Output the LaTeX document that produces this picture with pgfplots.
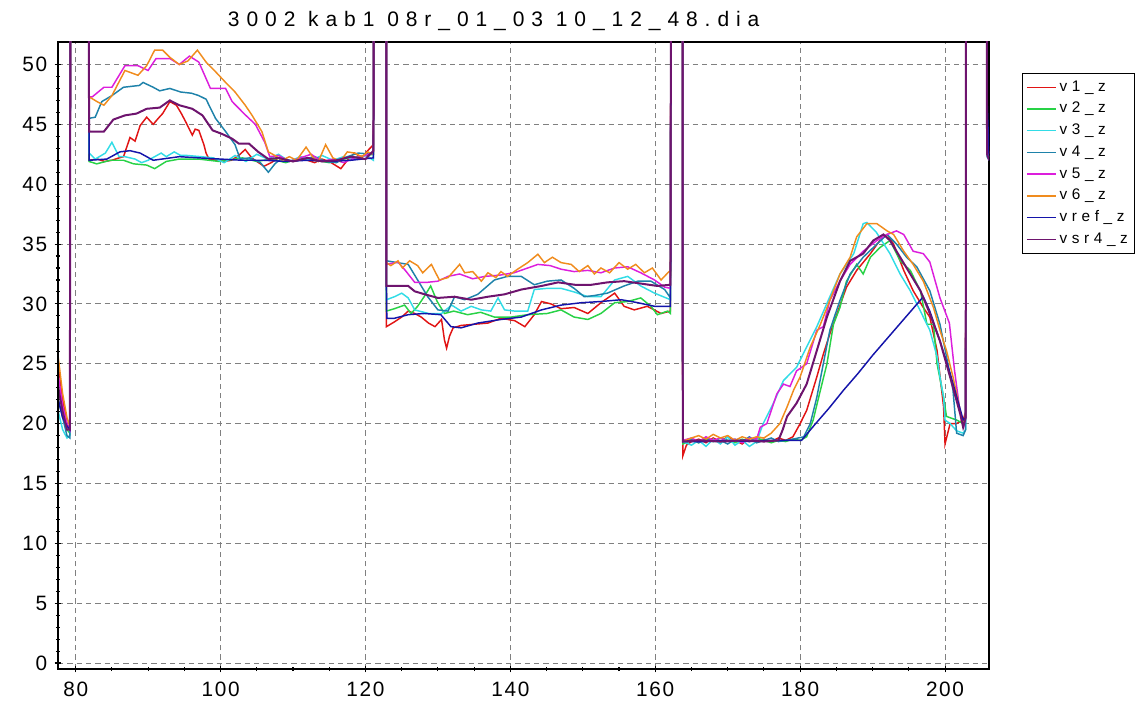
\documentclass[border=0pt]{standalone}
\usepackage{fontspec}
\setmainfont{Liberation Sans}
\newfontfamily\tickfont{Liberation Sans}[LetterSpace=8]
\newfontfamily\titlefont{Liberation Sans}[LetterSpace=33]
\newfontfamily\legfont{Liberation Sans}[LetterSpace=30]
\usepackage{pgfplots}
\pgfplotsset{compat=1.18}
\definecolor{cA}{RGB}{225,20,20}
\definecolor{cB}{RGB}{40,210,70}
\definecolor{cC}{RGB}{50,220,230}
\definecolor{cD}{RGB}{30,130,170}
\definecolor{cE}{RGB}{220,30,220}
\definecolor{cF}{RGB}{240,140,30}
\definecolor{cG}{RGB}{20,20,170}
\definecolor{cH}{RGB}{110,20,110}
\begin{document}
\begin{tikzpicture}
\begin{axis}[name=ax, scale only axis, width=698.25pt, height=470.25pt,
  xmin=77.56, xmax=206.07, ymin=-0.5, ymax=51.88,
  xtick={80,100,...,200}, ytick={0,5,...,50},
  minor x tick num=3, minor y tick num=4,
  tick pos=left, tick align=center, major tick length=5pt, minor tick length=3pt,
  tick style={black, line width=0.8pt},
  grid=major, major grid style={gray, line width=0.75pt, dash pattern=on 4pt off 3pt},
  axis line style={black, line width=0.8pt},
  /pgf/number format/assume math mode=true,
  ticklabel style={font=\fontsize{15.6pt}{18pt}\selectfont\tickfont},
  yticklabel style={xshift=-2pt},
  xticklabel style={yshift=-4pt},
  title={3002 kab1 08r\_01\_03 10\_12\_48.dia},
  title style={font=\fontsize{15.75pt}{18pt}\selectfont\titlefont, at={(0.468,1)}, anchor=south, inner sep=0pt, yshift=2pt},
  legend style={at={(1.0354,0.9506)}, anchor=north west, draw=black, fill=white,
    font=\fontsize{11.5pt}{13pt}\selectfont\legfont, row sep=5.3pt, inner xsep=3pt, inner ysep=5pt,
    nodes={inner ysep=0pt, text height=8.5pt, text depth=2.5pt}},
  legend cell align=left,
  legend image code/.code={\draw[#1,line width=1.1pt] (0pt,0pt) -- (22pt,0pt);},
  every axis plot/.append style={line width=1.1pt, mark=none},
]
% v1_z
\addplot[draw=cA] coordinates {
(77.6,25) (78.2,22) (78.8,20) (79.2,19.5) (79.3,70) (81.75,70)
(81.85,42.0) (83,42.1) (84,41.9) (85,42.0) (86,42.2) (86.6,42.3) (87.5,43.9) (88.2,43.6) (88.9,44.9) (89.8,45.6) (90.7,45.0) (91.4,45.5) (92,45.9) (93,46.9) (93.9,46.6) (94.5,46.0) (95.2,45.2) (96.1,44.1) (96.5,44.6) (97,44.5) (97.7,43.3) (98,42.6) (98.4,42.1) (99.5,42.0) (100.5,41.9) (101.5,42.0) (102.5,42.4) (103.4,42.9) (104.3,42.2) (105,41.9) (106,41.5) (107,41.8) (108,42.2) (109,42.0) (110,41.9) (111,42.3) (112,42.0) (113,41.8) (114,42.1) (115,41.9) (116.6,41.3) (117.5,42.0) (118.5,42.6) (119.5,42.2) (120.3,42.8) (121.1,43.3) (121.2,70) (122.85,70)
(122.9,28.1) (124.0,28.5) (125.0,28.9) (125.9,29.4) (126.8,29.2) (127.7,28.9) (128.7,28.4) (129.6,28.1) (130.5,28.7) (130.9,27.0) (131.2,26.3) (131.6,27.3) (132.1,28.0) (133.2,28.2) (135.0,28.3) (136.9,28.4) (138.7,28.8) (140.6,28.6) (142.0,28.1) (143.3,29.1) (144.3,30.2) (145.6,30.0) (147.0,29.6) (148.8,29.7) (150.7,29.2) (152.5,30.1) (154.4,30.9) (155.7,29.8) (157.1,29.5) (158.9,29.8) (160.8,29.2) (162.1,29.4) (162.2,70) (163.75,70)
(163.8,17.3) (164.3,18.2) (165,18.5) (166,18.7) (167,18.4) (168,18.8) (169,18.5) (170,18.9) (171,18.6) (172,18.3) (173,18.8) (174,18.6) (175,18.7) (176,18.5) (177,18.8) (178,18.6) (179,18.9) (180,20.0) (180.9,21.1) (182.3,23.9) (183.2,25.8) (184.1,27.5) (185.1,29.2) (186.4,31.4) (187.8,32.8) (189.7,34.2) (191.0,35.3) (192.0,35.8) (192.9,35.0) (194.3,32.8) (195.6,31.1) (197.0,29.7) (197.9,28.9) (198.9,26.1) (199.8,21.4) (200.0,18.3) (200.7,20.0) (201.6,20.0) (202.5,20.3) (202.85,21) (202.9,70) (205.7,70) (205.8,44) (206.1,42.5)
};
\addlegendentry{v1\_z}
% v2_z
\addplot[draw=cB] coordinates {
(77.6,23) (78.2,21) (78.8,19.5) (79.2,19.2) (79.3,70) (81.75,70)
(81.85,41.9) (82.9,41.7) (84.8,42.0) (86.6,42.0) (88,41.7) (89.8,41.6) (90.9,41.3) (92.5,41.9) (94.3,42.1) (97,42.1) (99.8,41.9) (101,42.0) (103,42.2) (105,41.9) (107,42.1) (109,41.8) (111,42.2) (113,42.0) (115,41.8) (117,42.1) (119,42.3) (121.1,42.5) (121.2,70) (122.85,70)
(122.9,29.4) (124.0,29.6) (125.4,29.9) (126.3,29.2) (127.2,29.8) (128.1,30.6) (129.0,31.5) (129.9,30.2) (130.9,29.2) (132.2,29.4) (134.1,29.1) (135.9,29.3) (137.8,28.9) (140.1,28.9) (142.4,29.1) (145.1,29.2) (147.0,29.5) (148.8,28.9) (150.7,28.7) (152.5,29.2) (154.4,30.1) (156.2,30.2) (158.0,30.5) (159.4,29.8) (160.3,29.1) (161.7,29.4) (162.1,29.2) (162.2,70) (163.75,70)
(163.8,18.3) (165,18.6) (166,18.4) (167,18.7) (168,18.5) (169,18.8) (170,18.6) (171,18.4) (172,18.7) (173,18.5) (174,18.8) (175,18.6) (176,18.4) (177,18.6) (178,18.5) (179,18.7) (180,18.6) (180.9,18.9) (181.8,20.3) (182.8,22.8) (183.7,25.0) (184.6,28.3) (185.5,29.7) (186.4,31.9) (187.8,33.3) (188.7,32.5) (189.7,33.9) (191.0,34.7) (192.4,35.3) (193.8,33.6) (195.2,32.8) (196.6,31.1) (197.5,28.3) (198.4,28.3) (198.9,25.0) (199.8,22.2) (200.2,20.6) (201.6,20.3) (202.5,20.0) (202.85,20.5) (202.9,70) (205.7,70) (205.8,42.5) (206.1,42.2)
};
\addlegendentry{v2\_z}
% v3_z
\addplot[draw=cC] coordinates {
(77.6,21) (78.2,19.5) (78.8,18.8) (79.2,19.0) (79.3,70) (81.75,70)
(81.85,42.6) (82.7,42.1) (84.1,42.6) (85,43.5) (86,42.3) (86.8,42.3) (88.2,42.1) (89.1,41.8) (90,42.0) (91.8,42.6) (92.5,42.3) (93.6,42.7) (94.5,42.4) (95.4,42.4) (97.3,42.3) (99,42.2) (100.5,41.8) (102,42.4) (103.5,41.9) (105,42.5) (106.5,42.1) (108,42.5) (109.5,41.9) (111,42.3) (112.5,42.0) (114,42.4) (115.5,42.0) (117,42.3) (118.5,42.1) (120,42.4) (121.1,42.0) (121.2,70) (122.85,70)
(122.9,30.35) (124.0,30.6) (125.0,30.9) (125.9,30.5) (126.8,29.5) (128.7,29.2) (130.5,29.2) (131.9,29.9) (133.2,29.4) (134.6,29.8) (136.0,29.5) (137.3,29.4) (138.3,30.5) (139.2,29.5) (140.6,29.4) (142.4,29.4) (143.3,31.2) (145.1,31.3) (147.0,31.3) (148.8,31.0) (150.7,30.6) (152.5,30.6) (154.4,32.0) (156.2,32.3) (158.0,31.5) (159.9,30.9) (162.1,30.35) (162.2,70) (163.75,70)
(163.8,18.5) (165,18.2) (166,18.6) (167,18.1) (168,18.7) (169,18.3) (170,18.9) (171,18.2) (172,18.6) (173,18.1) (174,18.5) (174.9,20.0) (176.3,21.7) (177.7,23.6) (179.5,24.7) (180.9,26.4) (182.3,28.1) (184.1,30.6) (185.5,32.5) (187.4,34.2) (188.7,36.7) (189.2,36.8) (190.5,36.0) (192.4,34.2) (193.8,32.5) (195.2,31.1) (196.6,29.4) (197.9,27.8) (198.9,25.6) (199.3,23.9) (199.8,22.2) (200.0,20.3) (200.7,20.0) (201.6,19.4) (202.5,19.2) (202.85,19.5) (202.9,70) (205.7,70) (205.8,42.6) (206.1,42.3)
};
\addlegendentry{v3\_z}
% v4_z
\addplot[draw=cD] coordinates {
(77.6,22) (78.2,20.5) (78.8,19) (79.2,18.8) (79.3,70) (81.75,70)
(81.85,45.5) (82.7,45.6) (83.6,46.9) (85,47.4) (86.6,48.1) (88.8,48.25) (89.3,48.5) (90.7,48.1) (91.6,47.8) (93,48.0) (94.5,47.7) (96,47.6) (97,47.4) (98,47.1) (99.3,45.5) (100.7,44.4) (102,43.3) (102.7,42.1) (104,42.2) (105.5,41.8) (106.6,41.0) (107.5,41.7) (108.5,42.2) (110,41.9) (111.5,42.1) (113,42.3) (114.5,41.9) (116,41.8) (117.5,42.3) (119,42.6) (121.1,42.5) (121.2,70) (122.85,70)
(122.9,33.6) (125.9,33.3) (127.2,32.0) (128.6,30.6) (130.0,29.5) (131.4,29.4) (132.3,30.6) (133.7,30.35) (135.5,30.8) (137.8,32.0) (139.6,32.3) (141.5,32.3) (143.3,31.6) (145.1,31.9) (147.0,32.0) (148.8,31.3) (150.2,30.6) (151.6,30.7) (153.4,30.9) (155.7,31.5) (157.6,31.9) (159.4,31.9) (161.3,31.2) (162.1,30.5) (162.2,70) (163.75,70)
(163.8,18.6) (165,18.7) (166,18.4) (167,18.8) (168,18.5) (169,18.6) (170,18.3) (171,18.7) (172,18.5) (173,18.9) (174,18.4) (175,18.6) (176,18.8) (177,18.5) (178,18.6) (179,18.7) (180.5,18.9) (181.4,20.0) (182.3,22.2) (183.2,25.0) (184.1,27.8) (185.5,30.3) (186.9,32.5) (188.7,33.9) (190.6,35.0) (192.0,35.8) (193.3,35.0) (194.7,33.9) (196.1,33.1) (197.9,31.1) (199.3,28.3) (200.2,25.6) (201.1,22.8) (201.6,19.2) (202.5,19.0) (202.85,19.5) (202.9,70) (205.7,70) (205.8,42.3) (206.1,42.0)
};
\addlegendentry{v4\_z}
% v5_z
\addplot[draw=cE] coordinates {
(77.6,24) (78.2,21.5) (78.8,20) (79.2,19.5) (79.3,70) (81.75,70)
(81.85,47.3) (82.3,47.3) (83.9,48.1) (85,48.1) (86.8,49.9) (88.6,49.9) (90,49.5) (91.1,50.5) (93,50.5) (94.3,50.0) (95.7,50.7) (97,50.2) (98.6,48.0) (100.7,48.0) (101.6,46.9) (103.4,45.8) (104.8,45.0) (106.1,43.5) (106.8,42.3) (108,42.4) (109.5,41.9) (111,42.2) (112.5,42.5) (114,41.9) (115.5,42.1) (117,41.8) (118.5,42.2) (120,42.4) (121.1,42.7) (121.2,70) (122.85,70)
(122.9,33.3) (124.5,33.5) (125.5,32.8) (126.8,31.8) (128.5,31.8) (130,31.9) (131.4,32.3) (133,32.5) (134.8,32.1) (136.5,32.3) (138.5,32.4) (140.5,32.6) (142.4,33.0) (143.8,33.3) (145.5,33.2) (147.0,32.9) (148.8,32.7) (150.7,32.8) (152.5,32.6) (154.4,33.0) (156.2,33.1) (158.0,32.6) (159.9,32.0) (161.3,31.4) (162.1,31.3) (162.2,70) (163.75,70)
(163.8,18.6) (165,18.8) (166,18.5) (167,18.9) (168,18.6) (169,18.8) (170,18.5) (171,18.7) (172,18.4) (173,18.8) (174,18.7) (174.5,19.7) (175.4,20.0) (176.8,22.5) (177.7,23.3) (178.6,23.1) (179.5,24.4) (180.9,25.0) (182.3,27.8) (183.2,28.1) (184.1,30.3) (185.5,31.9) (186.9,33.3) (188.7,34.4) (190.6,35.3) (192.0,35.8) (193.3,36.1) (194.3,35.8) (195.6,34.4) (197.0,34.2) (197.9,33.5) (199.3,30.5) (200.6,28.4) (201.3,24.5) (202.0,21.3) (202.6,19.8) (202.85,20.5) (202.9,70) (205.7,70) (205.8,42.8) (206.1,42.5)
};
\addlegendentry{v5\_z}
% v6_z
\addplot[draw=cF] coordinates {
(77.6,25.5) (78.2,22.5) (78.8,20.5) (79.2,19.8) (79.3,70) (81.75,70)
(81.85,47.3) (82.95,46.9) (83.9,46.6) (85,47.4) (86.8,49.5) (88.6,49.1) (89.8,49.9) (90.9,51.2) (92,51.2) (93,50.6) (94.3,50.0) (95.5,50.3) (96.8,51.2) (98,50.2) (99.3,49.4) (100.7,48.5) (102,47.7) (103.4,46.6) (104.3,45.8) (105.7,44.4) (106.6,42.7) (107.5,42.4) (108.5,42.0) (109.5,42.3) (110.5,42.0) (111.8,43.1) (112.8,42.2) (113.5,41.9) (114.5,43.3) (115.5,42.2) (116.5,41.9) (117.5,42.7) (118.5,42.6) (119.5,42.3) (120.3,42.7) (121.1,42.5) (121.2,70) (122.85,70)
(122.9,33.45) (123.5,33.2) (124.5,33.6) (125.1,33.0) (126.1,33.6) (127.2,33.2) (127.9,32.6) (129.1,33.3) (130.2,32.0) (131.4,32.2) (133.0,33.3) (133.7,32.6) (134.8,32.7) (136.0,31.9) (136.9,32.6) (138.0,32.2) (138.7,32.7) (139.6,32.3) (141.0,32.9) (142.4,33.45) (143.8,34.15) (144.7,33.45) (145.8,33.9) (147.0,33.45) (148.4,33.3) (149.5,32.7) (150.7,33.2) (151.6,32.5) (152.5,33.0) (153.7,32.6) (155.0,33.45) (156.2,32.9) (157.3,33.3) (158.5,32.6) (159.6,33.0) (160.8,32.0) (161.9,32.7) (162.1,32.7) (162.2,70) (163.75,70)
(163.8,18.5) (165,18.8) (166,19.0) (167,18.7) (168,19.1) (169,18.8) (170,19.0) (171,18.6) (172,18.9) (173,18.7) (174,18.9) (175,18.8) (176,19.2) (177.2,20.0) (178.2,21.4) (179.1,22.8) (180.0,23.9) (181.4,26.4) (182.8,28.3) (184.1,30.3) (185.5,32.5) (186.9,33.9) (187.8,35.6) (189.2,36.7) (190.6,36.7) (192.0,36.1) (192.9,35.8) (194.3,34.4) (195.6,33.3) (197.0,31.9) (198.4,29.7) (199.3,27.8) (200.2,26.1) (201.1,23.9) (202.1,21.1) (202.5,20.0) (202.85,20.5) (202.9,70) (205.7,70) (205.8,43) (206.1,42.6)
};
\addlegendentry{v6\_z}
% vref_z
\addplot[draw=cG] coordinates {
(77.6,22) (78.2,20.5) (78.8,19.8) (79.2,19.5) (79.3,70) (81.75,70)
(81.85,42.0) (84.3,42.1) (86.1,42.7) (87.5,42.8) (88.9,42.6) (90.7,42.0) (94.3,42.3) (97,42.2) (100,42.1) (103,42.0) (106,42.0) (109,41.9) (112,42.0) (115,41.9) (118,42.0) (121.1,42.2) (121.2,70) (122.85,70)
(122.9,31.2) (122.95,28.8) (124.0,28.8) (125.9,29.1) (128.1,29.2) (130.4,29.1) (131.8,28.1) (133.2,28.0) (135.5,28.4) (138.7,28.7) (141.5,28.9) (144.3,29.5) (147.0,29.9) (149.8,30.1) (152.5,30.2) (155.3,30.35) (157.6,30.1) (159.9,29.8) (162.1,29.8) (162.2,70) (163.75,70)
(163.8,18.5) (167,18.5) (170,18.6) (173,18.5) (176,18.6) (179,18.6) (180.2,18.6) (182,19.9) (184,21.3) (186,22.8) (188,24.2) (190,25.7) (192,27.1) (194,28.5) (196,29.9) (197.0,30.6) (197.9,29.4) (199.3,26.9) (200.7,24.2) (202.0,21.4) (202.5,20.3) (202.85,20.5) (202.9,70) (205.7,70) (205.8,47) (206.1,42)
};
\addlegendentry{vref\_z}
% vsr4_z
\addplot[draw=cH, line width=1.5pt] coordinates {
(77.6,23) (78.2,21) (78.8,19.5) (79.2,19.5) (79.3,70) (81.75,70)
(81.85,44.4) (83.9,44.4) (85.2,45.4) (86.8,45.75) (88.4,45.9) (89.8,46.3) (91.6,46.4) (93,47.0) (94.3,46.6) (96.1,46.3) (97.5,45.75) (98.9,44.5) (100.2,44.2) (101.6,43.8) (102.5,43.4) (103.9,43.4) (105.2,42.7) (106.6,42.1) (108,42.2) (110,41.9) (112,42.2) (114,41.9) (116,42.0) (118,42.3) (120,42.1) (121.1,42.8) (121.2,70) (122.85,70)
(122.9,31.5) (125.9,31.5) (126.8,31.05) (128.2,30.8) (130.0,30.5) (132.3,30.6) (134.6,30.35) (136.9,30.6) (139.2,30.8) (141.5,31.2) (144.3,31.5) (146.6,31.8) (148.9,31.6) (151.2,31.6) (153.4,31.8) (155.7,31.9) (158.0,31.7) (160.3,31.5) (162.1,31.6) (162.2,70) (163.75,70)
(163.8,18.5) (166,18.6) (169,18.5) (172,18.6) (175,18.5) (177,18.6) (177.6,19.5) (178.2,20.6) (179.5,21.7) (180.9,23.3) (182.3,26.1) (183.7,28.9) (185.5,31.9) (186.9,33.6) (188.7,34.2) (190.1,35.3) (191.5,35.8) (192.4,35.3) (193.8,33.9) (195.2,32.5) (196.6,31.1) (197.9,29.2) (199.3,26.9) (200.7,23.9) (202.1,20.8) (202.5,19.7) (202.85,20.5) (202.9,70) (205.7,70) (205.8,42.5) (206.1,42)
};
\addlegendentry{vsr4\_z}
\end{axis}
\draw[line width=2.2pt, black] (ax.north west) -- (ax.south west) -- (ax.south east);
\pgfresetboundingbox
\path ([shift={(-43.5pt,-24pt)}]ax.south west) rectangle ([shift={(111.75pt,31.5pt)}]ax.north east);
\end{tikzpicture}
\end{document}
